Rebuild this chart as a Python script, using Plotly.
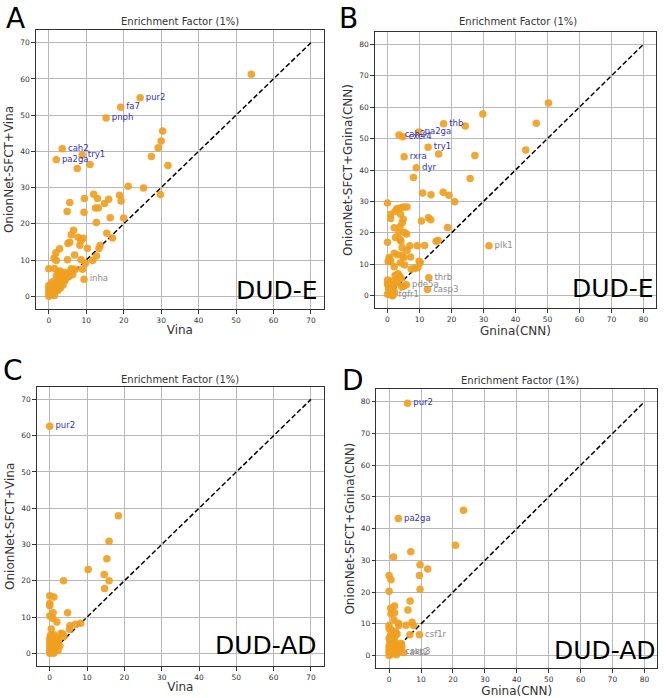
import plotly.graph_objects as go

# ---------------- Data ----------------
# Panel A: DUD-E, Vina vs OnionNet-SFCT+Vina
a_x = [54.1, 30.4, 30.0, 29.2, 27.4, 31.8, 29.8, 25.3, 21.2, 18.9, 19.3, 16.0, 14.9, 20.0, 16.4,
       12.0, 13.0, 9.5, 5.6, 4.9, 9.4, 12.5, 13.2, 12.7, 15.5, 17.0, 13.7, 13.4, 12.7, 11.7,
       10.3, 9.2, 8.6, 8.3, 7.8, 6.6, 6.0, 5.1, 5.6, 6.9, 8.6, 9.0, 5.0, 2.9, 1.9, 1.4, 2.0,
       7.6, 11.0, 0.0, 7.1,
       1.5, 2.5, 3.5, 4.2, 4.9, 5.8, 6.4, 5.4, 3.9, 3.0, 2.4, 3.3, 4.3, 1.7, 2.8, 3.8, 1.2,
       2.2, 0.5, 0.0, 0.8, 1.6, 0.0, 0.3, 1.1, 2.4, 0.0, 1.5, 0.7, 3.1, 4.6, 2.0, 1.0, 6.0,
       3.0, 0.2, 9.8, 0.0]
a_y = [61.3, 45.6, 42.9, 41.0, 38.6, 36.1, 28.1, 29.9, 30.4, 27.9, 26.3, 26.8, 25.6, 21.6, 21.7,
       28.2, 27.0, 27.0, 25.9, 23.4, 23.2, 24.4, 24.4, 20.4, 17.4, 16.1, 14.0, 13.2, 11.1, 9.9,
       13.3, 16.0, 15.4, 14.1, 16.3, 18.2, 17.0, 14.6, 14.9, 11.4, 10.1, 7.5, 10.1, 13.1, 12.0, 10.5, 9.9,
       35.3, 36.4, 7.6, 7.5,
       7.7, 6.7, 6.2, 6.6, 6.2, 6.9, 6.0, 5.5, 5.4, 5.0, 4.4, 4.0, 4.3, 3.5, 3.2, 3.1, 2.6,
       2.3, 3.0, 2.0, 1.6, 1.2, 1.0, 0.4, 0.6, 1.6, 0.0, 0.2, 1.0, 2.3, 5.0, 5.6, 4.0, 7.6,
       7.0, 1.5, 9.1, 3.0]
a_lab = ["pur2", "fa7", "pnph", "cah2", "try1", "pa2ga", "inha"]
a_lab_x = [24.4, 19.2, 15.3, 3.6, 8.9, 2.0, 9.4]
a_lab_y = [54.8, 52.2, 49.2, 40.7, 39.0, 37.7, 4.7]
a_lab_up = [True, True, True, True, True, True, False]

# Panel B: DUD-E, Gnina(CNN) vs OnionNet-SFCT+Gnina(CNN)
b_x = [50.3, 29.8, 24.3, 16.0, 27.3, 8.1, 25.8, 43.2, 46.5, 11.0, 13.6, 17.4, 19.2, 21.0, 0.0,
       10.6, 12.8, 13.5, 18.8, 15.2, 15.8, 11.6, 9.3,
       2.9, 2.4, 4.1, 5.1, 6.1, 1.0, 1.0, 4.1, 4.9, 4.6, 2.1, 3.9, 3.6, 2.5, 5.3, 6.0, 3.9, 4.2,
       0.0, 7.0, 4.6, 6.1, 2.1, 3.1, 0.5, 0.7, 4.6, 5.1, 7.2, 0.2, 1.0, 4.0, 5.3, 2.1, 7.4, 8.5,
       9.5, 9.9, 10.2, 0.0, 0.0, 2.4, 3.3, 3.8, 4.3, 2.8, 1.5, 2.0, 1.2, 0.5, 0.0, 0.8, 2.2, 1.6,
       5.0, 3.0, 1.8, 4.4, 0.3, 0.3]
b_y = [61.3, 57.8, 54.0, 45.1, 44.6, 37.6, 37.3, 46.4, 54.9, 32.7, 32.1, 32.9, 32.0, 29.9, 29.5,
       23.8, 24.8, 24.2, 21.7, 17.3, 17.6, 16.0, 15.9,
       27.7, 26.9, 28.0, 28.2, 28.2, 25.9, 24.6, 25.9, 24.3, 23.2, 21.6, 21.9, 20.1, 18.5, 20.1, 19.6, 17.9, 17.3,
       17.0, 15.9, 15.3, 14.5, 13.5, 13.0, 12.2, 11.5, 12.8, 12.2, 12.3, 10.9, 11.0, 10.5, 9.8, 9.2, 8.5, 8.7,
       9.0, 11.0, 10.5, 5.0, 3.8, 6.5, 7.0, 6.2, 5.5, 5.6, 4.8, 3.5, 2.5, 1.5, 0.5, 0.3, 1.0, 0.0,
       3.0, 4.2, 2.0, 2.9, 3.5, 2.5]
b_lab = ["thb", "cah2", "cxcr4", "pa2ga", "try1", "rxra", "dyr", "plk1", "thrb", "casp3", "pde5a", "fgfr1"]
b_lab_x = [17.5, 3.6, 4.8, 9.8, 12.7, 5.2, 9.0, 31.7, 12.9, 12.5, 5.9, 1.7]
b_lab_y = [54.7, 51.1, 50.6, 52.1, 47.2, 44.2, 40.7, 15.9, 5.7, 2.0, 3.5, 0.2]
b_lab_up = [True, True, True, True, True, True, True, False, False, False, False, False]

# Panel C: DUD-AD, Vina vs OnionNet-SFCT+Vina
c_x = [18.4, 15.9, 15.3, 10.3, 14.6, 15.9, 14.7, 3.7, 0.0, 1.1, 0.0, 0.0, 0.0, 0.8, 0.9, 1.9,
       4.8, 0.4, 5.4, 5.3, 6.9, 8.3, 3.0, 3.5, 1.1, 3.8, 1.9, 2.4, 0.0, 0.0, 0.0, 0.0, 0.0,
       0.5, 0.8, 1.2, 1.5, 2.0, 2.2, 0.3, 0.6, 1.0, 1.4, 0.2, 1.8, 2.7, 0.4, 0.0, 1.0]
c_y = [37.9, 30.9, 26.1, 23.1, 21.7, 20.0, 17.9, 20.0, 15.9, 15.5, 13.7, 13.1, 10.3, 9.6, 11.2, 8.6,
       11.2, 6.7, 7.6, 6.6, 8.0, 8.3, 5.5, 5.3, 5.1, 4.6, 4.0, 3.5, 4.0, 3.0, 2.0, 1.0, 0.0,
       2.5, 1.2, 0.3, 2.8, 1.5, 0.8, 3.6, 0.5, 3.2, 4.2, 5.0, 2.2, 2.0, 1.8, 0.5, 0.0]
c_lab = ["pur2"]
c_lab_x = [0.0]
c_lab_y = [62.6]
c_lab_up = [True]

# Panel D: DUD-AD, Gnina(CNN) vs OnionNet-SFCT+Gnina(CNN)
d_x = [23.3, 20.8, 6.8, 1.4, 9.7, 12.1, 9.5, 0.0, 0.6, 9.7, 0.0, 6.6, 5.9, 0.5, 1.7, 0.6, 1.7,
       1.5, 0.0, 2.9, 3.0, 5.3, 7.2, 7.7, 6.5, 0.0, 0.8, 1.2, 2.0, 2.5, 1.8, 0.5, 0.0, 0.3, 1.0,
       1.5, 2.2, 3.0, 3.8, 2.6, 1.2, 0.0, 0.0, 0.5, 1.5, 2.0, 0.8, 0.0, 0.3, 2.8, 3.5, 4.0, 1.0,
       0.0, 2.3]
d_y = [45.8, 34.8, 32.7, 31.1, 28.6, 27.3, 25.2, 25.2, 23.9, 20.9, 20.3, 17.2, 14.4, 14.9, 15.6, 13.2, 13.5,
       11.3, 9.5, 10.2, 9.5, 9.6, 10.5, 9.5, 6.6, 8.5, 8.0, 7.2, 7.5, 6.8, 6.0, 6.5, 5.5, 4.5, 4.2,
       5.0, 4.0, 3.5, 3.8, 2.8, 3.0, 3.0, 2.0, 1.5, 1.8, 1.0, 0.5, 0.0, 1.0, 2.0, 2.5, 3.0, 2.5,
       1.0, 0.3]
d_lab = ["pur2", "pa2ga", "csf1r", "casp3", "akt2"]
d_lab_x = [5.8, 2.9, 9.5, 3.3, 4.6]
d_lab_y = [79.5, 43.2, 6.6, 1.2, 1.0]
d_lab_up = [True, True, False, False, False]

x_titles = ["Vina", "Gnina(CNN)", "Vina", "Gnina(CNN)"]
y_titles = ["OnionNet-SFCT+Vina", "OnionNet-SFCT+Gnina(CNN)",
            "OnionNet-SFCT+Vina", "OnionNet-SFCT+Gnina(CNN)"]
diag_max = [70, 80, 70, 80]
panel_letters = ["A", "B", "C", "D"]
dataset_names = ["DUD-E", "DUD-E", "DUD-AD", "DUD-AD"]
subtitle = "Enrichment Factor (1%)"

# ---------------- Layout geometry (pixels) ----------------
W, H = 666, 698
# plot boxes: left, right, top, bottom
boxes = [(35.7, 324.0, 30.0, 309.0),
         (374.7, 656.3, 31.7, 308.3),
         (36.7, 324.0, 386.7, 666.0),
         (376.3, 657.3, 389.0, 668.3)]
letter_pos = [(15, 18.5), (348, 18.5), (13, 370), (353, 380)]
subtitle_pos = [(180, 21.7), (518, 21.7), (180, 379.3), (519.7, 380.7)]
dsname_pos = [(320, 290.8), (656, 288.3), (318.5, 645.8), (657.5, 650.8)]

ORANGE = "#f0a020"
BLUE = "#3030c8"
GRAY = "#8a8a8a"
FONT = "DejaVu Sans"

panels = [
    (a_x, a_y, a_lab, a_lab_x, a_lab_y, a_lab_up),
    (b_x, b_y, b_lab, b_lab_x, b_lab_y, b_lab_up),
    (c_x, c_y, c_lab, c_lab_x, c_lab_y, c_lab_up),
    (d_x, d_y, d_lab, d_lab_x, d_lab_y, d_lab_up),
]

fig = go.Figure()
annotations = []
layout_axes = {}

for i, (px, py, lab, lx, ly, lup) in enumerate(panels):
    k = "" if i == 0 else str(i + 1)
    xa, ya = "x" + k, "y" + k
    m = diag_max[i]
    # diagonal
    fig.add_trace(go.Scatter(x=[0, m], y=[0, m], mode="lines", xaxis=xa, yaxis=ya,
                             line=dict(color="black", width=1.5, dash="5px,2.5px"),
                             showlegend=False, hoverinfo="skip"))
    # points
    fig.add_trace(go.Scatter(x=px, y=py, mode="markers", xaxis=xa, yaxis=ya,
                             marker=dict(color=ORANGE, size=7.5, opacity=0.92, line=dict(width=0)),
                             showlegend=False))
    # labelled points
    for up_flag, col in [(True, BLUE), (False, GRAY)]:
        sel = [j for j in range(len(lab)) if lup[j] == up_flag]
        if not sel:
            continue
        fig.add_trace(go.Scatter(x=[lx[j] for j in sel], y=[ly[j] for j in sel],
                                 text=[lab[j] for j in sel],
                                 mode="markers+text", textposition="middle right",
                                 textfont=dict(color=col, size=8.5, family=FONT),
                                 xaxis=xa, yaxis=ya,
                                 marker=dict(color=ORANGE, size=7.5, opacity=0.92, line=dict(width=0)),
                                 showlegend=False))

    l, r, t, b = boxes[i]
    pad = m * 0.05
    common = dict(showgrid=True, gridcolor="#b8b8b8", gridwidth=1, zeroline=False,
                  showline=True, linecolor="#333333", linewidth=1, mirror=True,
                  ticks="outside", ticklen=3.5, tickwidth=1, tickcolor="#333333",
                  tickfont=dict(size=7.5, color="#333333", family=FONT),
                  tickmode="array", tickvals=list(range(0, m + 1, 10)),
                  range=[-pad, m + pad], layer="below traces")
    layout_axes["xaxis" + k] = dict(common, domain=[l / W, r / W], anchor=ya,
                                    title=dict(text=x_titles[i],
                                               font=dict(size=12, color="#333333", family=FONT),
                                               standoff=2))
    layout_axes["yaxis" + k] = dict(common, domain=[1 - b / H, 1 - t / H], anchor=xa,
                                    title=dict(text=y_titles[i],
                                               font=dict(size=12, color="#333333", family=FONT),
                                               standoff=3))

    lxp, lyp = letter_pos[i]
    annotations.append(dict(text=panel_letters[i], x=lxp / W, y=1 - lyp / H, xref="paper", yref="paper",
                            xanchor="center", yanchor="middle", showarrow=False,
                            font=dict(size=28, color="black", family=FONT)))
    sx, sy = subtitle_pos[i]
    annotations.append(dict(text=subtitle, x=sx / W, y=1 - sy / H, xref="paper", yref="paper",
                            xanchor="center", yanchor="middle", showarrow=False,
                            font=dict(size=10, color="#333333", family=FONT)))
    dx, dy = dsname_pos[i]
    annotations.append(dict(text=dataset_names[i], x=dx / W, y=1 - dy / H, xref="paper", yref="paper",
                            xanchor="right", yanchor="middle", showarrow=False,
                            font=dict(size=25, color="black", family=FONT)))

fig.update_layout(width=W, height=H, autosize=False,
                  margin=dict(l=0, r=0, t=0, b=0, pad=0),
                  paper_bgcolor="white", plot_bgcolor="white",
                  font=dict(family=FONT),
                  annotations=annotations, **layout_axes)

fig.write_html("out.html", config={"displayModeBar": False},
               post_script="document.body.style.margin='0';document.body.style.padding='0';"
                           "document.body.style.overflow='hidden';")
